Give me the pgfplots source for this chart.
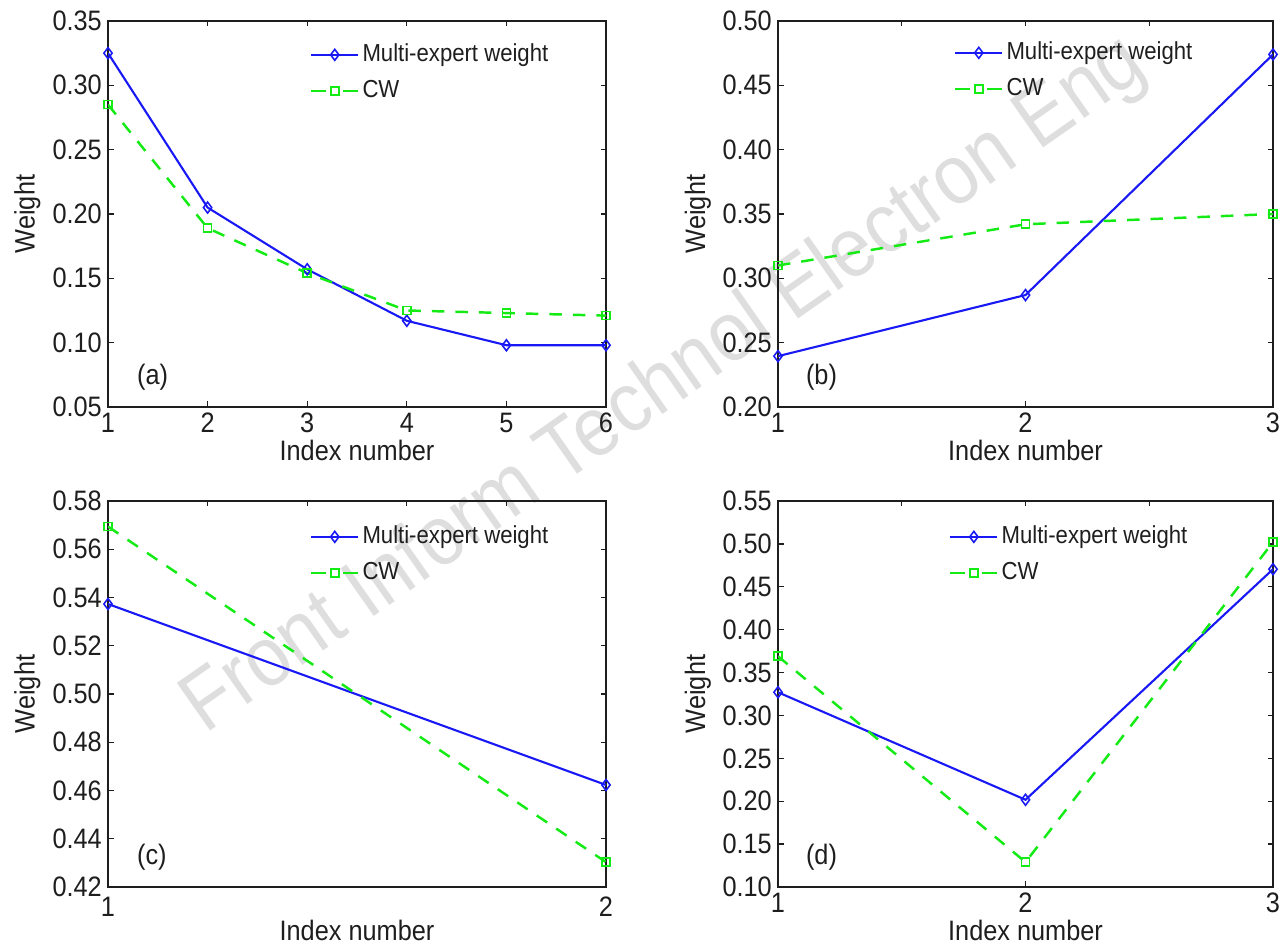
\documentclass[border=0pt]{standalone}
\usepackage{fontspec}
\setmainfont{Liberation Sans}[FakeStretch=0.9]
\usepackage{pgfplots}
\pgfplotsset{compat=1.18}
\definecolor{mblue}{RGB}{25,25,245}
\definecolor{mgreen}{RGB}{20,235,20}
\definecolor{txt}{RGB}{30,30,30}
\newcommand{\tickfont}{\fontsize{16}{19}\selectfont}
\newcommand{\legfont}{\fontsize{14}{16}\selectfont}
\tikzset{ttick/.style={txt, line width=0.7pt}}

\pgfplotsset{
  wpanel/.style={
    scale only axis, width=9.96cm, height=7.72cm,
    axis line style={line width=0.9pt, txt},
    tick style={txt, line width=0.7pt},
    major tick length=0.11cm,
    tick align=inside,
    every tick label/.append style={text=txt, font=\tickfont},
    xticklabel style={/pgf/number format/assume math mode=true},
    yticklabel style={/pgf/number format/.cd, fixed, fixed zerofill, precision=2, assume math mode=true},
    xlabel={Index number}, ylabel={Weight},
    label style={text=txt, font=\tickfont, inner sep=0pt},
    xlabel style={at={(axis description cs:0.5,0)}, anchor=north, yshift=-0.66cm},
    ylabel style={at={(axis description cs:-0.162,0.5)}, anchor=center},
    legend cell align=left,
    legend style={draw=none, fill=none, font=\legfont, text=txt, anchor=north west,
      row sep=0.18cm, inner sep=0pt,
      nodes={inner sep=0.06cm, text height=0.34cm, text depth=0.08cm}},
    legend image code/.code={
      \draw[mark repeat=2, mark phase=2, #1] plot coordinates {(0cm,0cm) (0.47cm,0cm) (0.94cm,0cm)};
    },
  },
  mew/.style={mblue, line width=1.2pt, mark=diamond, mark size=0.11cm,
    mark options={solid, line width=0.9pt}},
  cw/.style={mgreen, line width=1.4pt, dash pattern=on 0.25cm off 0.22cm,
    mark=square, mark size=0.08cm, mark options={solid, line width=0.9pt},
    legend image post style={dash pattern=on 0.3cm off 0.34cm}},
}

\begin{document}
\begin{tikzpicture}
\path[use as bounding box] (0,0) rectangle (25.7cm,18.92cm);

% watermark
\node[rotate=35, text=black!13, font=\fontsize{48}{50}\selectfont] at (13.3cm,11.2cm)
  {Front Inform Technol Electron Eng};

% (a)
\begin{axis}[wpanel, at={(2.16cm,10.78cm)}, anchor=south west,
  xmin=1, xmax=6, ymin=0.05, ymax=0.35,
  xtick={1,2,3,4,5,6}, ytick={0.05,0.10,0.15,0.20,0.25,0.30,0.35},
  legend style={at={(axis description cs:0.405,1)}, yshift=-0.40cm}]
\addplot[mew] coordinates {(1,0.325) (2,0.205) (3,0.157) (4,0.117) (5,0.098) (6,0.098)};
\addplot[cw] coordinates {(1,0.285) (2,0.189) (3,0.154) (4,0.125) (5,0.123) (6,0.121)};
\legend{Multi-expert weight, CW}
\node[anchor=west, font=\tickfont, text=txt] at (axis description cs:0.046,0.078) {(a)};
\end{axis}

% (b)
\begin{axis}[wpanel, at={(15.56cm,10.78cm)}, anchor=south west, width=9.9cm,
  xmin=1, xmax=3, ymin=0.20, ymax=0.50,
  xtick={1,2,3}, ytick={0.20,0.25,0.30,0.35,0.40,0.45,0.50},
  legend style={at={(axis description cs:0.355,1)}, yshift=-0.36cm}]
\addplot[mew] coordinates {(1,0.2395) (2,0.287) (3,0.474)};
\addplot[cw] coordinates {(1,0.310) (2,0.342) (3,0.350)};
\legend{Multi-expert weight, CW}
\node[anchor=west, font=\tickfont, text=txt] at (axis description cs:0.044,0.078) {(b)};
\draw[ttick] (axis cs:1.5,0.50) -- ([yshift=-0.11cm]axis cs:1.5,0.50);
\draw[ttick] (axis cs:2.5,0.50) -- ([yshift=-0.11cm]axis cs:2.5,0.50);
\end{axis}

% (c)
\begin{axis}[wpanel, at={(2.16cm,1.18cm)}, anchor=south west,
  xmin=1, xmax=2, ymin=0.42, ymax=0.58,
  xtick={1,2}, ytick={0.42,0.44,0.46,0.48,0.50,0.52,0.54,0.56,0.58},
  xticklabel style={yshift=-0.08cm},
  legend style={at={(axis description cs:0.405,1)}, yshift=-0.44cm}]
\addplot[mew] coordinates {(1,0.5373) (2,0.4623)};
\addplot[cw] coordinates {(1,0.5694) (2,0.4303)};
\legend{Multi-expert weight, CW}
\node[anchor=west, font=\tickfont, text=txt] at (axis description cs:0.046,0.078) {(c)};
\draw[ttick] (axis cs:1.2,0.58) -- ([yshift=-0.11cm]axis cs:1.2,0.58);
\draw[ttick] (axis cs:1.4,0.58) -- ([yshift=-0.11cm]axis cs:1.4,0.58);
\draw[ttick] (axis cs:1.6,0.58) -- ([yshift=-0.11cm]axis cs:1.6,0.58);
\draw[ttick] (axis cs:1.8,0.58) -- ([yshift=-0.11cm]axis cs:1.8,0.58);
\end{axis}

% (d)
\begin{axis}[wpanel, at={(15.56cm,1.18cm)}, anchor=south west, width=9.9cm,
  xmin=1, xmax=3, ymin=0.10, ymax=0.55,
  xtick={1,2,3}, ytick={0.10,0.15,0.20,0.25,0.30,0.35,0.40,0.45,0.50,0.55},
  legend style={at={(axis description cs:0.345,1)}, yshift=-0.44cm}]
\addplot[mew] coordinates {(1,0.327) (2,0.2017) (3,0.4705)};
\addplot[cw] coordinates {(1,0.369) (2,0.129) (3,0.502)};
\legend{Multi-expert weight, CW}
\node[anchor=west, font=\tickfont, text=txt] at (axis description cs:0.044,0.078) {(d)};
\draw[ttick] (axis cs:1.5,0.55) -- ([yshift=-0.11cm]axis cs:1.5,0.55);
\draw[ttick] (axis cs:2.5,0.55) -- ([yshift=-0.11cm]axis cs:2.5,0.55);
\end{axis}
\end{tikzpicture}
\end{document}
